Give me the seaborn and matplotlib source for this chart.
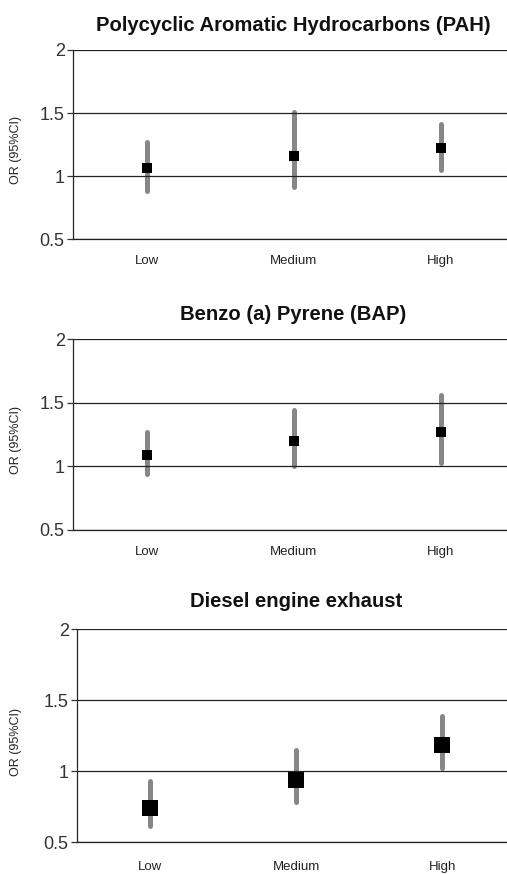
import numpy as np
import pandas as pd
import matplotlib
matplotlib.use("Agg")
import matplotlib.pyplot as plt
import seaborn as sns

categories = ["Low", "Medium", "High"]
titles = ["Polycyclic Aromatic Hydrocarbons (PAH)", "Benzo (a) Pyrene (BAP)", "Diesel engine exhaust"]

pah_or = [1.06, 1.16, 1.22]
pah_lo = [0.88, 0.91, 1.05]
pah_hi = [1.27, 1.51, 1.41]

bap_or = [1.09, 1.20, 1.27]
bap_lo = [0.94, 1.00, 1.03]
bap_hi = [1.27, 1.44, 1.56]

die_or = [0.74, 0.94, 1.18]
die_lo = [0.61, 0.78, 1.02]
die_hi = [0.93, 1.15, 1.39]

yticks = [0.5, 1, 1.5, 2]
ytick_labels = ["0.5", "1", "1.5", "2"]
ylabel = "OR (95%CI)"

sns.set_style("white")
plt.rcParams["font.family"] = ["Liberation Sans", "DejaVu Sans"]

fig = plt.figure(figsize=(5.07, 8.74), dpi=100)

panels = [
    (pah_or, pah_lo, pah_hi),
    (bap_or, bap_lo, bap_hi),
    (die_or, die_lo, die_hi),
]
rects = [
    [0.144, 0.7265, 0.870, 0.2163],
    [0.144, 0.3936, 0.870, 0.2185],
    [0.152, 0.0366, 0.864, 0.2437],
]
msizes = [7.2, 7.2, 11.5]
title_pads = [14.0, 13.5, 16.0]
xpads = [11.5, 11.5, 14.0]
ylab_x = [-0.116, -0.116, -0.126]

for i, ((ors, los, his), rect) in enumerate(zip(panels, rects)):
    ax = fig.add_axes(rect)
    rows = []
    for c, o, l, h in zip(categories, ors, los, his):
        rows += [(c, l), (c, o), (c, h)]
    df = pd.DataFrame(rows, columns=["level", "OR"])
    sns.pointplot(
        data=df, x="level", y="OR", order=categories,
        estimator="median", errorbar=("pi", 100),
        linestyle="none", marker="s", color="black",
        markersize=msizes[i], markeredgewidth=0, zorder=4,
        err_kws={"color": "#878787", "linewidth": 3.6,
                 "solid_capstyle": "round", "zorder": 2},
        ax=ax,
    )
    ax.set_xlim(-0.5, 2.5)
    ax.set_ylim(0.5, 2.0)
    ax.set_yticks(yticks)
    ax.set_yticklabels(ytick_labels)
    ax.set_xticks(range(len(categories)))
    ax.set_xticklabels(categories)
    ax.set_xticks([-0.5, 0.5, 1.5], minor=True)
    ax.tick_params(axis="x", which="major", length=0, pad=xpads[i], labelsize=9.5, colors="#222222")
    ax.tick_params(axis="x", which="minor", length=6, direction="inout", width=0.9, color="#333333")
    ax.tick_params(axis="y", which="major", length=4, width=0.9, pad=2, labelsize=13, colors="#333333", left=True)
    ax.yaxis.grid(True, color="#222222", linewidth=0.9)
    ax.xaxis.grid(False)
    ax.set_axisbelow(False)
    for s in ["top", "right"]:
        ax.spines[s].set_visible(False)
    for s in ["left", "bottom"]:
        ax.spines[s].set_color("#222222")
        ax.spines[s].set_linewidth(0.9)
    ax.set_xlabel("")
    ax.set_ylabel(ylabel, fontsize=9, color="#222222")
    ax.yaxis.set_label_coords(ylab_x[i], 0.47)
    ax.set_title(titles[i], fontsize=14.6, fontweight="bold", pad=title_pads[i], color="#111111")

fig.savefig("out.png", dpi=100)
